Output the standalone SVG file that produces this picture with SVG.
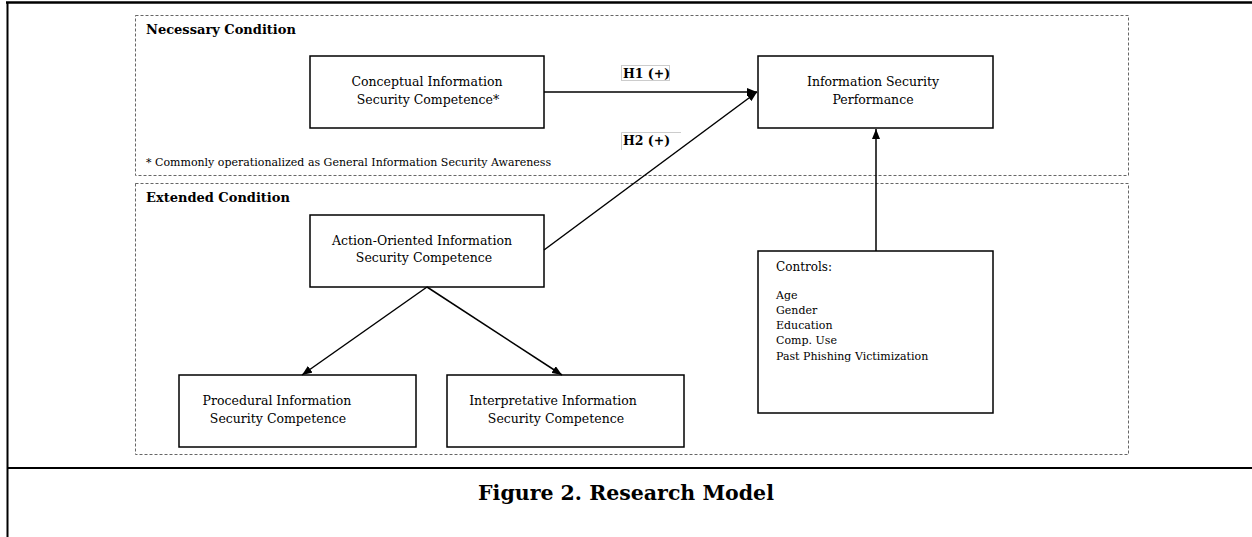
<svg xmlns="http://www.w3.org/2000/svg" width="1252" height="537" viewBox="0 0 1252 537">
<style>
text{font-family:"DejaVu Serif","Liberation Serif",serif;fill:#000}
.t{font-size:12.5px}
.h{font-size:13px;font-weight:bold}
.c{text-anchor:middle}
.b{font-weight:bold}
.ctl{font-size:11px}
.box{fill:#fff;stroke:#000;stroke-width:1.5}
.dash{fill:none;stroke:#666;stroke-width:1;stroke-dasharray:3 2}
.conn{fill:none;stroke:#000;stroke-width:1.5}
.frame{fill:none;stroke:#000}
</style>
<defs>
<marker id="ah" markerUnits="userSpaceOnUse" markerWidth="10" markerHeight="8" refX="10" refY="4" orient="auto">
<path d="M0,0 L10,4 L0,8 z" fill="#000"/>
</marker>
</defs>
<rect width="1252" height="537" fill="#fff"/>
<g id="frame">
<line class="frame" x1="6" y1="2.5" x2="1252" y2="2.5" stroke-width="2.5"/>
<line class="frame" x1="7.5" y1="2" x2="7.5" y2="537" stroke-width="2"/>
<line class="frame" x1="7" y1="468" x2="1252" y2="468" stroke-width="2"/>
</g>
<g id="necessary-condition">
<rect class="dash" x="135.5" y="15.5" width="993" height="160"/>
<text class="h" x="146" y="34">Necessary Condition</text>
<text x="146" y="166" font-size="11px">* Commonly operationalized as General Information Security Awareness</text>
</g>
<g id="extended-condition">
<rect class="dash" x="135.5" y="183.5" width="993" height="271"/>
<text class="h" x="146" y="202">Extended Condition</text>
</g>
<g id="conceptual">
<rect class="box" x="310" y="56" width="234" height="72"/>
<text class="t c" x="427" y="86">Conceptual Information</text>
<text class="t c" x="428" y="104">Security Competence*</text>
</g>
<g id="performance">
<rect class="box" x="758" y="56" width="235" height="72"/>
<text class="t c" x="873" y="86">Information Security</text>
<text class="t c" x="873" y="104">Performance</text>
</g>
<g id="action">
<rect class="box" x="310" y="215" width="234" height="72"/>
<text class="t c" x="422" y="245">Action-Oriented Information</text>
<text class="t c" x="424" y="262">Security Competence</text>
</g>
<g id="procedural">
<rect class="box" x="179" y="375" width="237" height="72"/>
<text class="t c" x="277" y="405">Procedural Information</text>
<text class="t c" x="278" y="423">Security Competence</text>
</g>
<g id="interpretative">
<rect class="box" x="447" y="375" width="237" height="72"/>
<text class="t c" x="553" y="405">Interpretative Information</text>
<text class="t c" x="556" y="423">Security Competence</text>
</g>
<g id="controls">
<rect class="box" x="758" y="251" width="235" height="162"/>
<text x="776" y="271" font-size="12px">Controls:</text>
<text class="ctl" x="776" y="299">Age</text>
<text class="ctl" x="776" y="314">Gender</text>
<text class="ctl" x="776" y="329">Education</text>
<text class="ctl" x="776" y="344">Comp. Use</text>
<text class="ctl" x="776" y="360">Past Phishing Victimization</text>
</g>
<g id="labels">
<rect x="621.5" y="65.5" width="48" height="15" fill="#fff" stroke="#ccc" stroke-width="1"/>
<text class="t b" x="623" y="78" font-size="12px">H1 (+)</text>
<path d="M621.5,150 V132.5 H681" fill="none" stroke="#ccc" stroke-width="1"/>
<text class="t b" x="623" y="145" font-size="12px">H2 (+)</text>
</g>
<g id="connectors">
<line class="conn" x1="544" y1="92" x2="757" y2="92" marker-end="url(#ah)"/>
<line class="conn" x1="544" y1="250" x2="757" y2="92" marker-end="url(#ah)"/>
<line class="conn" x1="876" y1="251" x2="876" y2="129" marker-end="url(#ah)"/>
<line class="conn" x1="427" y1="287" x2="302" y2="375" marker-end="url(#ah)"/>
<line class="conn" x1="427" y1="287" x2="562" y2="375" marker-end="url(#ah)"/>
</g>
<g id="caption">
<text class="c b" x="626" y="500" font-size="20.5px">Figure 2. Research Model</text>
</g>
</svg>
